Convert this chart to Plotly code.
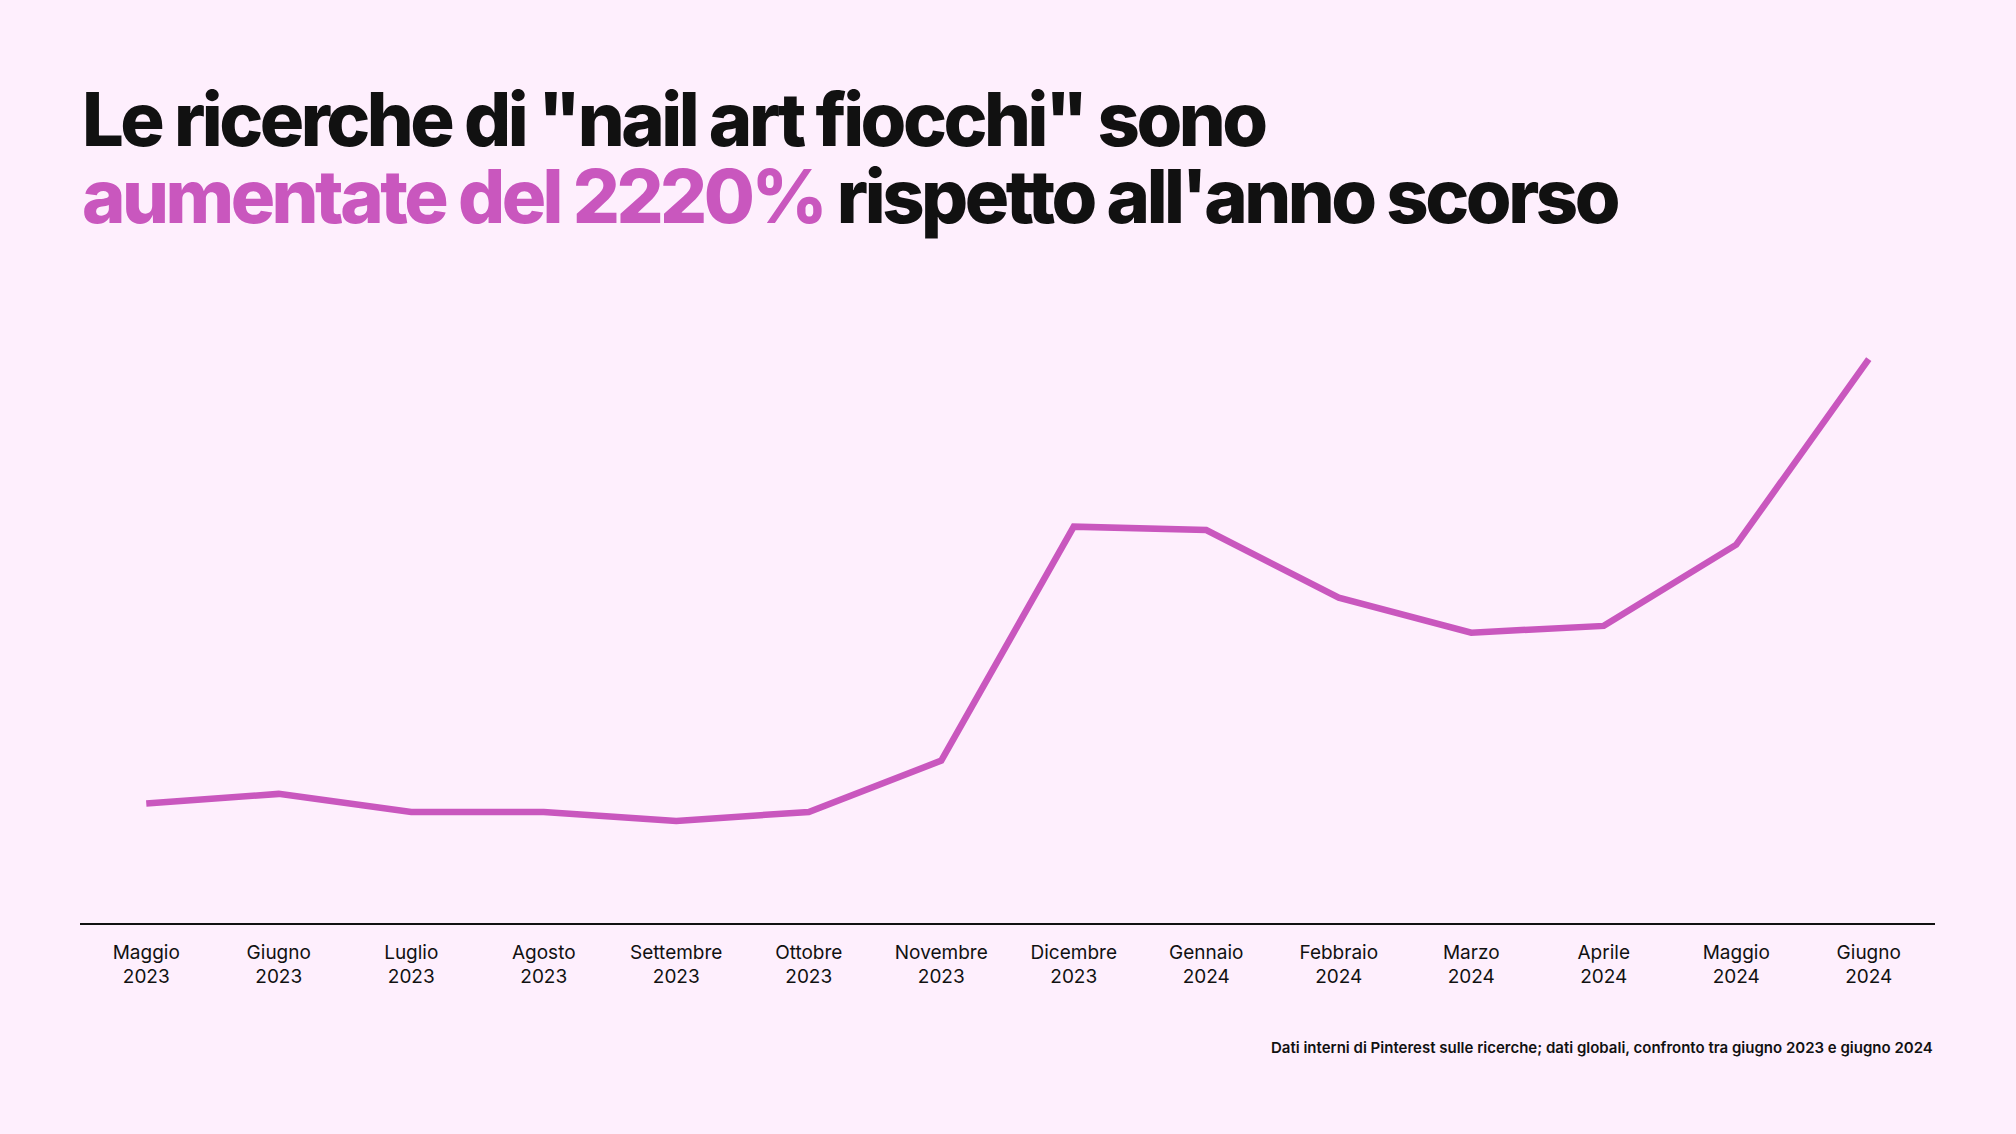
import plotly.graph_objects as go

# search interest, index (Giugno 2024 = 100)
months = ["Maggio", "Giugno", "Luglio", "Agosto", "Settembre", "Ottobre", "Novembre",
          "Dicembre", "Gennaio", "Febbraio", "Marzo", "Aprile", "Maggio", "Giugno"]
years = ["2023"] * 8 + ["2024"] * 6
values = [21.2, 22.9, 19.7, 19.7, 18.1, 19.7, 28.8, 70.3, 69.7, 57.7, 51.5, 52.7, 67.1, 100]

tick_text = [m + "<br>" + y for m, y in zip(months, years)]
x_idx = list(range(len(values)))

PINK = "#C957BE"
INK = "#111111"
BG = "#FEEFFD"

W, H = 2016, 1134
ML, MR, MT, MB = 80, 81, 300, 211
plot_h = H - MT - MB


def py(pix):
    # pixel row -> paper y
    return (H - MB - pix) / plot_h


fig = go.Figure()
fig.add_trace(go.Scatter(
    x=x_idx, y=values, mode="lines",
    line=dict(color=PINK, width=6.5),
    hoverinfo="skip",
))

# base size sets plotly's line spacing (1.3em), spans carry the real glyph size -> tight leading
st = "font-size:74px;letter-spacing:-3.5px"
title = (f'<span style="{st}">Le ricerche di "nail art fiocchi" sono</span><br>'
         f'<span style="{st};color:{PINK}">aumentate del 2220%</span>'
         f'<span style="{st}"> rispetto all\'anno scorso</span>')
fig.add_annotation(
    text=title, align="left",
    xref="paper", yref="paper", x=0, y=py(158), xanchor="left", yanchor="middle",
    showarrow=False, font=dict(family="Inter", size=59, color=INK, weight=800),
)
fig.add_annotation(
    text="Dati interni di Pinterest sulle ricerche; dati globali, confronto tra giugno 2023 e giugno 2024",
    xref="paper", yref="paper", x=1, y=py(1047), xanchor="right", yanchor="middle",
    showarrow=False, font=dict(family="Inter", size=15, color=INK, weight=600),
)

fig.update_layout(
    width=W, height=H,
    margin=dict(l=ML, r=MR, t=MT, b=MB),
    paper_bgcolor=BG, plot_bgcolor=BG,
    showlegend=False,
    font=dict(family="Inter", color=INK),
)
fig.update_xaxes(
    range=[-0.5, 13.5], tickvals=x_idx, ticktext=tick_text,
    showline=True, linecolor=INK, linewidth=1.5,
    showgrid=False, zeroline=False, ticks="", ticklabelstandoff=11,
    tickfont=dict(family="Inter", size=19, color=INK),
)
fig.update_yaxes(range=[0, 110.5], visible=False, showgrid=False, zeroline=False)

fig.write_html("out.html", config={"displayModeBar": False},
               post_script="document.body.style.margin='0';")
